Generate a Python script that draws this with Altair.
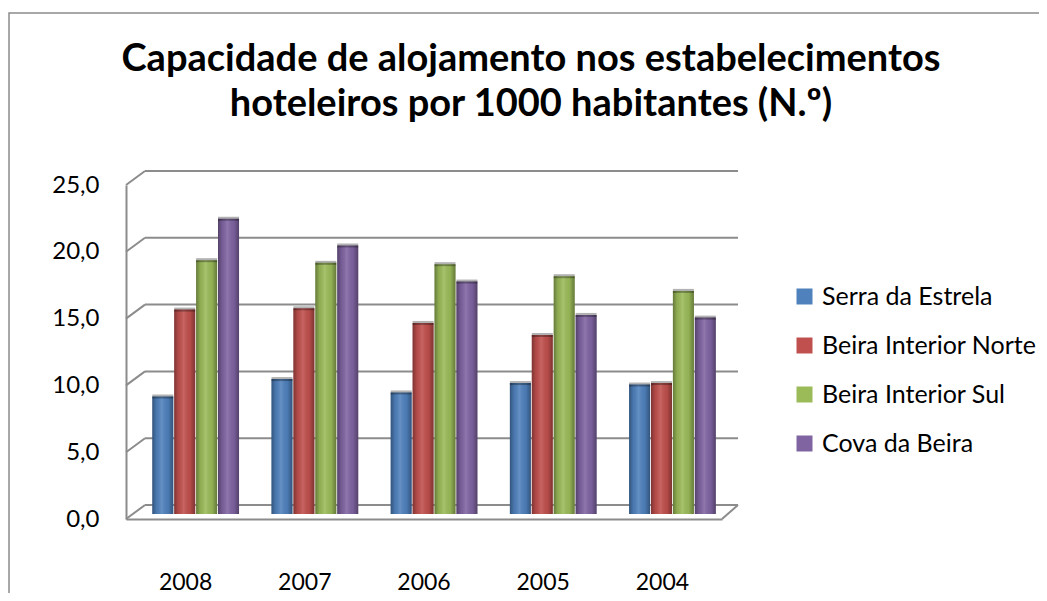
import altair as alt
import pandas as pd

FONT = "Lato"

years = ["2008", "2007", "2006", "2005", "2004"]
series_names = ["Serra da Estrela", "Beira Interior Norte", "Beira Interior Sul", "Cova da Beira"]
serra_estrela = [8.8, 10.1, 9.1, 9.8, 9.7]
beira_norte = [15.3, 15.4, 14.3, 13.4, 9.8]
beira_sul = [19.0, 18.8, 18.7, 17.8, 16.7]
cova_beira = [22.1, 20.1, 17.4, 14.9, 14.7]
y_ticks = [0, 5, 10, 15, 20, 25]
colors = ["#4F81BD", "#C0504D", "#9BBB59", "#8064A2"]

rows = []
for name, vals in zip(series_names, [serra_estrela, beira_norte, beira_sul, cova_beira]):
    for yr, v in zip(years, vals):
        rows.append({"ano": yr, "regiao": name, "valor": v})
df = pd.DataFrame(rows)
grid_df = pd.DataFrame({"v": y_ticks})

GRID = "#8c8c8c"

x_enc = alt.X(
    "ano:N", sort=years,
    scale=alt.Scale(paddingInner=0, paddingOuter=0),
    axis=alt.Axis(title=None, labelFontSize=23, labelFont=FONT, labelColor="#000000",
                  labelPadding=52, labelAngle=0, ticks=False,
                  domainColor=GRID, domainWidth=2),
)
xo_enc = alt.XOffset("regiao:N", sort=series_names,
                     scale=alt.Scale(paddingOuter=0.74, paddingInner=0.04, align=0.81))
y_scale = alt.Scale(domain=[0, 25], nice=False)
y_axis = alt.Axis(values=y_ticks, title=None, grid=False, ticks=False,
                  labelExpr="replace(format(datum.value, '.1f'), '.', ',')",
                  labelFontSize=24, labelFont=FONT, labelColor="#000000",
                  labelPadding=27, domainColor=GRID, domainWidth=2)
y_enc = alt.Y("valor:Q", scale=y_scale, axis=y_axis)
y_grid = alt.Y("v:Q", scale=y_scale, axis=y_axis)

bars = alt.Chart(df).mark_bar(yOffset=-5, y2Offset=-5).encode(
    x=x_enc, xOffset=xo_enc, y=y_enc,
    color=alt.Color("regiao:N", sort=series_names,
                    scale=alt.Scale(domain=series_names, range=colors),
                    legend=alt.Legend(title=None, orient="none", legendX=666, legendY=99,
                                      labelFontSize=25, labelFont=FONT, labelColor="#000000",
                                      labelLimit=0,
                                      symbolType="square", symbolSize=256, symbolStrokeWidth=0,
                                      rowPadding=23, labelOffset=5)),
)

shade = alt.Chart(df).mark_bar(
    yOffset=-5, y2Offset=-5,
    fill=alt.Gradient(
        gradient="linear", x1=0, x2=1, y1=0, y2=0,
        stops=[
            alt.GradientStop(color="rgba(0,0,0,0.35)", offset=0),
            alt.GradientStop(color="rgba(0,0,0,0.08)", offset=0.2),
            alt.GradientStop(color="rgba(255,255,255,0.12)", offset=0.45),
            alt.GradientStop(color="rgba(0,0,0,0.05)", offset=0.75),
            alt.GradientStop(color="rgba(0,0,0,0.35)", offset=1),
        ],
    ),
).encode(x=x_enc, xOffset=xo_enc, y=y_enc)

caps = alt.Chart(df).mark_tick(
    yOffset=-5, thickness=4, size=21, color="#000000", opacity=0.3
).encode(x=x_enc, xOffset=xo_enc, y=y_enc)

back_grid = alt.Chart(grid_df).mark_rule(color=GRID, strokeWidth=2, yOffset=-14).encode(
    y=y_grid, x=alt.value(19), x2=alt.value(612)
)
left_diag = alt.Chart(grid_df).mark_rule(color=GRID, strokeWidth=2, y2Offset=-14).encode(
    y=y_grid, y2=alt.Y2("v"), x=alt.value(0), x2=alt.value(19)
)
right_diag = alt.Chart(grid_df).transform_filter("datum.v == 0").mark_rule(
    color=GRID, strokeWidth=2, y2Offset=-14
).encode(y=y_grid, y2=alt.Y2("v"), x=alt.value(596), x2=alt.value(612))

border = alt.Chart(grid_df).transform_filter("datum.v == 0").mark_rect(
    fill="transparent", stroke="#8c8c8c", strokeWidth=1.5
).encode(x=alt.value(-117), x2=alt.value(1000), y=alt.value(-172), y2=alt.value(500))

chart = alt.layer(border, back_grid, left_diag, right_diag, bars, shade, caps).properties(
    width=596, height=334,
    title=alt.TitleParams(
        text=["Capacidade de alojamento nos estabelecimentos",
              "hoteleiros por 1000 habitantes (N.º)"],
        anchor="middle", frame="group", fontSize=38, font=FONT, fontWeight="bold",
        color="#000000", lineHeight=45, dx=107, offset=0, dy=112,
    ),
    autosize=alt.AutoSizeParams(type="none"),
    padding={"left": 118, "top": 177, "right": 317, "bottom": 74},
).configure_view(stroke=None)

chart.save("out.html", embed_options={"renderer": "svg", "actions": False})
